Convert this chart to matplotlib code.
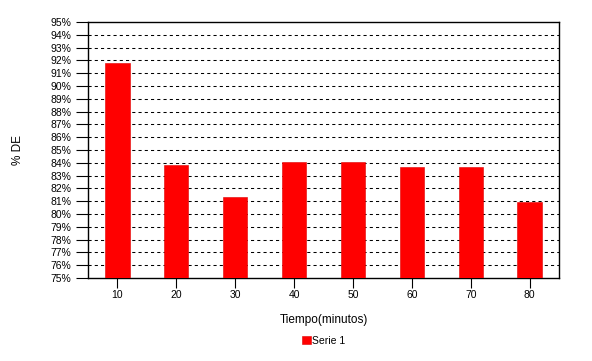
import matplotlib
matplotlib.use("Agg")
import matplotlib.pyplot as plt
from matplotlib.ticker import FuncFormatter

# data
tiempos = ["10", "20", "30", "40", "50", "60", "70", "80"]
de_pct = [91.8, 83.8, 81.3, 84.1, 84.1, 83.7, 83.7, 80.9]
serie_label = "Serie 1"

plt.rcParams['font.family'] = ['Liberation Sans', 'DejaVu Sans']

fig = plt.figure(figsize=(5.92, 3.61), dpi=100)
ax = fig.add_axes([88 / 592, 1 - 278 / 361, (559 - 88) / 592, (278 - 22) / 361])

x = [i + 0.5 for i in range(len(tiempos))]
ax.bar(x, de_pct, width=0.41, bottom=0, color='#ff0000',
       edgecolor='#e00000', linewidth=0.4, label=serie_label, zorder=3)

ax.set_xlim(0, len(tiempos))
ax.set_ylim(75, 95)
ax.set_yticks(range(75, 96))
ax.yaxis.set_major_formatter(FuncFormatter(lambda v, p: f"{int(v)}%"))
ax.set_xticks(x)
ax.set_xticklabels(tiempos)

for v in range(76, 95):
    ax.axhline(v, color='black', lw=0.75, linestyle=(0, (3, 3)), zorder=1)

for s in ax.spines.values():
    s.set_linewidth(1.0)
ax.tick_params(axis='y', direction='out', length=9, width=0.8, labelsize=7.5, pad=3)
ax.tick_params(axis='x', direction='inout', length=14, width=0.8, labelsize=7.5, pad=2)

ax.set_xlabel("Tiempo(minutos)", fontsize=8.5, labelpad=10)
fig.text(18 / 592, 1 - 150 / 361, "% DE", rotation=90, fontsize=8.5,
         ha='center', va='center')

ax.legend(loc='center', bbox_to_anchor=(0.5, -0.245), frameon=False,
          fontsize=7.5, handlelength=0.8, handleheight=0.8, handletextpad=0.1,
          borderaxespad=0)

fig.savefig("out.png", dpi=100)
